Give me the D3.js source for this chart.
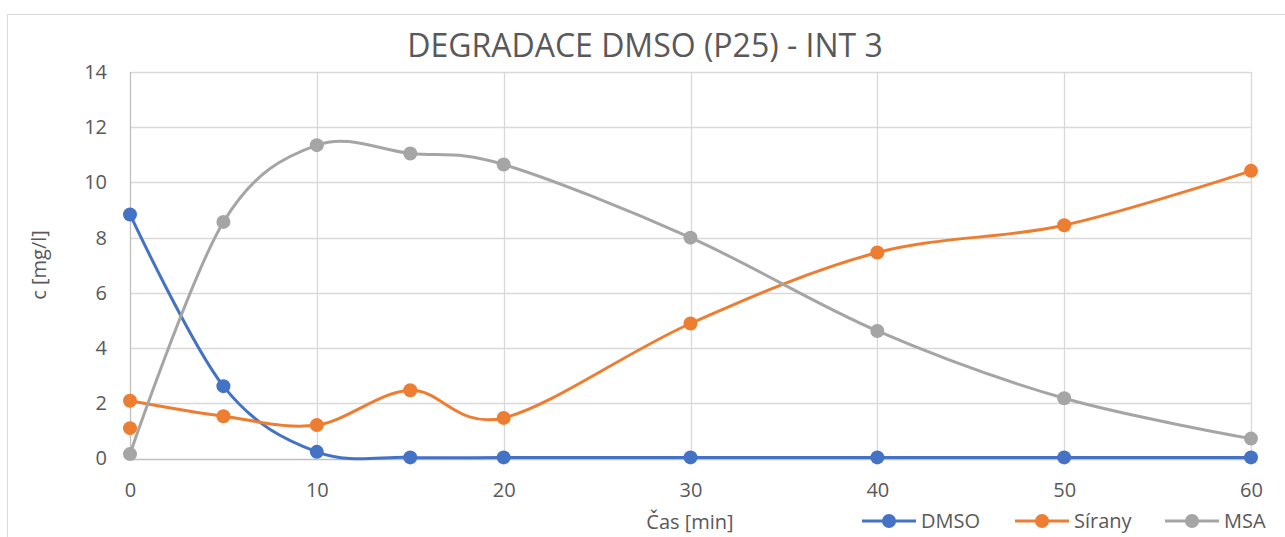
<!DOCTYPE html>
<html>
<head>
<meta charset="utf-8">
<script src="https://cdn.jsdelivr.net/npm/d3@7"></script>
<style>
  html, body { margin: 0; padding: 0; background: #fff; }
  svg { display: block; }
  text { font-family: "Open Sans", "Noto Sans", sans-serif; fill: #595959; }
</style>
</head>
<body>
<svg id="chart" width="1285" height="537"></svg>
<script>
// Sampling times [min]
const times = [0, 5, 10, 15, 20, 30, 40, 50, 60];
// Concentrations [mg/l]
const dmso   = [8.84, 2.62, 0.24, 0.04, 0.04, 0.04, 0.04, 0.04, 0.04];
const sirany = [2.09, 1.53, 1.21, 2.47, 1.47, 4.89, 7.46, 8.45, 10.42];
const msa    = [0.16, 8.57, 11.35, 11.05, 10.65, 8.0, 4.62, 2.18, 0.72];
// Separate repeat measurement of sulphates at t = 0
const siranyRepeatTime = [0];
const siranyRepeat = [1.10];

const xTicks = [0, 10, 20, 30, 40, 50, 60];
const yTicks = [0, 2, 4, 6, 8, 10, 12, 14];
const seriesNames = ["DMSO", "Sírany", "MSA"];
const seriesColors = ["#4472C4", "#ED7D31", "#A5A5A5"];

const svg = d3.select("#chart");

// outer chart frame
svg.append("rect")
  .attr("x", 7.5).attr("y", 14.5)
  .attr("width", 1290).attr("height", 540)
  .attr("fill", "#fff").attr("stroke", "#d9d9d9").attr("stroke-width", 1);

const plotL = 130, plotR = 1251, plotT = 72, plotB = 458.5;
const x = d3.scaleLinear().domain([0, 60]).range([plotL, plotR]);
const y = d3.scaleLinear().domain([0, 14]).range([plotB, plotT]);

// grid
const grid = svg.append("g");
grid.selectAll("line.h").data(yTicks.filter(d => d > 0)).join("line")
  .attr("x1", plotL).attr("x2", plotR)
  .attr("y1", d => Math.round(y(d)) + 0.5).attr("y2", d => Math.round(y(d)) + 0.5)
  .attr("stroke", "#d9d9d9").attr("stroke-width", 1.3);
grid.selectAll("line.v").data(xTicks.filter(d => d > 0)).join("line")
  .attr("y1", plotT).attr("y2", plotB)
  .attr("x1", d => Math.round(x(d)) + 0.5).attr("x2", d => Math.round(x(d)) + 0.5)
  .attr("stroke", "#d9d9d9").attr("stroke-width", 1.3);

// axis lines
svg.append("line").attr("x1", plotL).attr("x2", plotR)
  .attr("y1", Math.round(plotB) + 0.5).attr("y2", Math.round(plotB) + 0.5)
  .attr("stroke", "#bfbfbf").attr("stroke-width", 1.3);
svg.append("line").attr("x1", plotL + 0.5).attr("x2", plotL + 0.5)
  .attr("y1", plotT).attr("y2", plotB)
  .attr("stroke", "#bfbfbf").attr("stroke-width", 1.3);

// tick labels via d3 axes
const yAxis = svg.append("g").attr("transform", `translate(${plotL - 23},0)`)
  .call(d3.axisLeft(y).tickValues(yTicks).tickSize(0).tickPadding(0));
yAxis.select(".domain").remove();
yAxis.selectAll("text").attr("font-size", 20).attr("fill", "#595959")
  .attr("font-family", "'Open Sans', sans-serif");

const xAxis = svg.append("g").attr("transform", `translate(0,${plotB + 24})`)
  .call(d3.axisBottom(x).tickValues(xTicks).tickSize(0).tickPadding(0));
xAxis.select(".domain").remove();
xAxis.selectAll("text").attr("font-size", 20).attr("fill", "#595959")
  .attr("font-family", "'Open Sans', sans-serif");

// title
svg.append("text").attr("x", 645).attr("y", 57)
  .attr("text-anchor", "middle").attr("font-size", 32)
  .text("DEGRADACE DMSO (P25) - INT 3");

// axis titles
svg.append("text").attr("transform", "translate(46,265) rotate(-90)")
  .attr("text-anchor", "middle").attr("font-size", 20).text("c [mg/l]");
svg.append("text").attr("x", 690).attr("y", 529)
  .attr("text-anchor", "middle").attr("font-size", 20).text("Čas [min]");

// series
const line = d3.line()
  .x(d => x(d[0])).y(d => y(d[1]))
  .curve(d3.curveCardinal.tension(0));

const allSeries = [dmso, sirany, msa];
allSeries.forEach((vals, i) => {
  const pts = times.map((t, j) => [t, vals[j]]);
  const g = svg.append("g");
  g.append("path").attr("d", line(pts))
    .attr("fill", "none").attr("stroke", seriesColors[i])
    .attr("stroke-width", 3).attr("stroke-linecap", "round");
  let markers = pts;
  if (i === 1) markers = pts.concat(siranyRepeatTime.map((t, j) => [t, siranyRepeat[j]]));
  g.selectAll("circle").data(markers).join("circle")
    .attr("cx", d => x(d[0])).attr("cy", d => y(d[1]))
    .attr("r", 7).attr("fill", seriesColors[i]);
});

// legend
const legendX = [862, 1015, 1165];
const legend = svg.append("g");
seriesNames.forEach((name, i) => {
  const lx = legendX[i], ly = 521;
  legend.append("line").attr("x1", lx).attr("x2", lx + 54)
    .attr("y1", ly).attr("y2", ly)
    .attr("stroke", seriesColors[i]).attr("stroke-width", 3);
  legend.append("circle").attr("cx", lx + 27).attr("cy", ly).attr("r", 7)
    .attr("fill", seriesColors[i]);
  legend.append("text").attr("x", lx + 59).attr("y", ly + 7)
    .attr("font-size", 20).text(name);
});
</script>
</body>
</html>
